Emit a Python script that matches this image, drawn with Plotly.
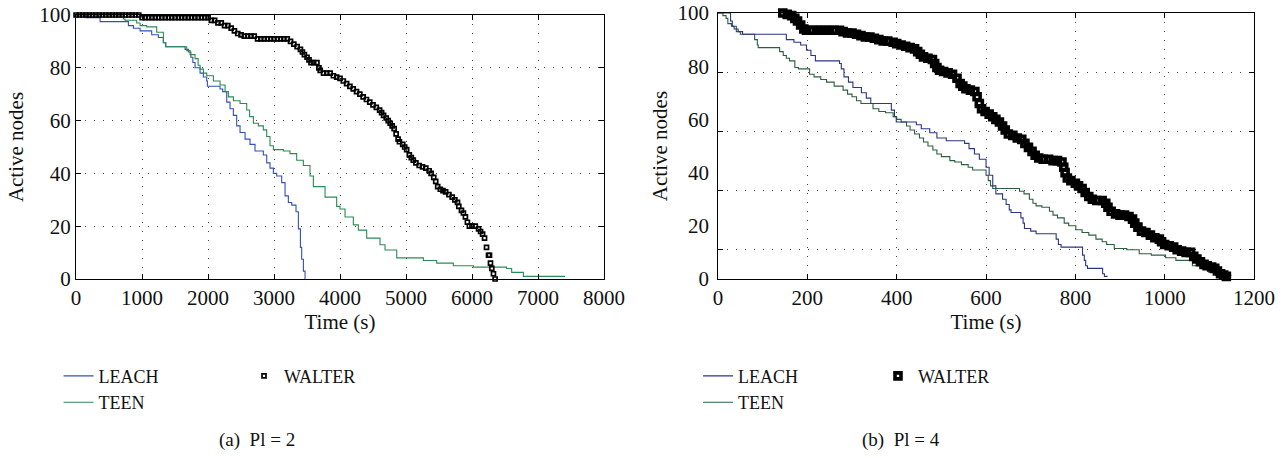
import plotly.graph_objects as go

# ---------------- (a) Pl = 2 ----------------
leach_a_t = [0, 150, 364, 793, 869, 970, 1146, 1247, 1323, 1359, 1652, 1702, 1740, 1770, 1803,
             1879, 1929, 1980, 1990, 2182, 2222, 2283, 2333, 2384, 2434, 2485, 2561, 2636, 2712,
             2838, 2889, 2939, 2990, 3040, 3116, 3167, 3217, 3268, 3333, 3369, 3400, 3419, 3445, 3470]
leach_a_n = [100, 99, 97.5, 96, 95, 94, 92.5, 91.5, 89.5, 88, 87, 86, 84, 82, 80,
             78, 76.5, 75, 73, 72, 71, 67, 64.5, 62, 58, 55.5, 53, 51, 48.5,
             47, 44, 42, 40, 39, 36.5, 31.5, 29, 28, 25.5, 19, 12, 7.5, 3, 0]

teen_a_t = [0, 717, 742, 919, 970, 1071, 1222, 1323, 1359, 1677, 1727, 1803, 1850, 1879, 1930,
            1980, 2081, 2182, 2258, 2308, 2384, 2485, 2586, 2630, 2687, 2763, 2838, 2889, 2939,
            2990, 3141, 3242, 3343, 3444, 3545, 3596, 3773, 3949, 4000, 4076, 4202, 4278, 4404,
            4606, 4682, 4859, 5263, 5465, 5717, 6020, 6525, 6601, 6778, 7409]
teen_a_n = [100, 98.5, 98, 97, 96, 95.5, 93.5, 89.5, 88, 86.5, 85, 83.5, 81, 79.5, 78,
            77, 75, 73.5, 71, 69, 67.5, 66.5, 64, 61.5, 59, 58, 56.5, 54, 50.5,
            49, 48.5, 47.5, 45, 43, 39, 35, 31, 27.5, 26.5, 23.5, 20.5, 18.5, 15.5,
            13, 11, 8, 7, 6, 5, 4.5, 4, 2.5, 1, 1]

walter_a_t = [0, 50, 100, 150, 200, 250, 300, 350, 400, 450, 500, 550, 600, 650, 700, 750, 800,
              850, 900, 950,
              1000, 1050, 1100, 1150, 1200, 1250, 1300, 1350, 1400, 1450, 1500, 1550, 1600, 1650,
              1700, 1750, 1800, 1850, 1900, 1950, 2000,
              2050, 2100, 2150, 2200, 2250, 2300, 2350, 2400, 2450, 2500, 2550, 2600, 2650, 2700,
              2750, 2800, 2850, 2900, 2950, 3000, 3050, 3100, 3150, 3200, 3250, 3300, 3350, 3400,
              3430, 3460, 3500, 3530, 3560, 3600, 3650, 3680, 3700, 3750, 3800, 3850, 3900, 3950,
              4000, 4050, 4100, 4150, 4200, 4250, 4300, 4350, 4400, 4450, 4500, 4550, 4600, 4630,
              4660, 4700, 4730, 4760, 4790, 4820, 4850, 4880, 4900, 4950, 4980, 5010, 5050, 5080,
              5110, 5150, 5200, 5250, 5300, 5350, 5380, 5420, 5450, 5480, 5520, 5560, 5600, 5650,
              5700, 5740, 5780, 5800, 5840, 5870, 5900, 5930, 5960, 6000, 6050, 6100, 6130, 6160,
              6190, 6220, 6250, 6265, 6280, 6300, 6325, 6350]
walter_a_n = [100, 100, 100, 100, 100, 100, 100, 100, 100, 100, 100, 100, 100, 100, 100, 100, 100,
              100, 100, 100,
              99, 99, 99, 99, 99, 99, 99, 99, 99, 99, 99, 99, 99, 99,
              99, 99, 99, 99, 99, 99, 99,
              98, 98, 97, 97, 96, 96, 95, 94, 93, 92.5, 92, 92, 92, 92,
              91, 91, 91, 91, 91, 91, 91, 91, 91, 91, 90, 89, 88, 87,
              86, 85, 84, 83, 82, 82, 82, 80, 79, 78, 78, 78, 77, 76.5,
              76, 75, 74, 73, 72, 71, 70, 69, 68, 67, 66, 65, 64, 63,
              62, 61, 60, 59, 58, 57, 55, 53, 52, 51, 50, 49, 47, 46,
              45, 44, 43, 42.5, 42, 41, 40, 38.5, 37, 35, 34, 33.5, 33, 32,
              31, 30, 29, 27.5, 26, 25, 23.5, 21.5, 20, 20, 20, 19, 18, 17,
              15.5, 12, 9, 9, 6, 4, 2, 0]

# ---------------- (b) Pl = 4 ----------------
leach_b_t = [0, 28, 32, 36, 45, 55, 153, 170, 185, 198, 208, 218, 272, 276, 282, 292, 302, 321,
             332, 342, 388, 395, 399, 444, 455, 474, 490, 511, 552, 562, 574, 585, 600, 607, 615,
             622, 637, 645, 652, 656, 678, 683, 686, 700, 712, 757, 762, 768, 816, 820, 823, 827,
             861, 865, 872]
leach_b_n = [100, 97, 95, 94, 93, 92, 90, 89, 88, 86, 84, 82, 81, 79, 76, 74, 72, 70,
             68, 66, 63.5, 61, 59, 58, 56.5, 55, 53, 52, 51, 49, 47, 45, 42, 39, 35,
             32, 30, 28, 26, 25, 23, 21, 19, 18, 17, 15, 13, 12, 9, 7, 5, 4,
             2, 1, 1]

teen_b_t = [0, 11, 18, 22, 30, 41, 50, 82, 88, 90, 138, 146, 153, 160, 172, 180, 205, 215, 230,
            243, 260, 280, 290, 300, 310, 320, 347, 360, 375, 392, 400, 410, 422, 430, 440, 451,
            460, 470, 481, 490, 500, 519, 530, 545, 560, 570, 600, 605, 610, 615, 675, 685, 697,
            705, 712, 725, 742, 750, 760, 775, 785, 801, 815, 830, 846, 860, 870, 887, 915, 943,
            970, 1002, 1025, 1062, 1080, 1099, 1114, 1148]
teen_b_n = [100, 99, 98, 96, 95, 93, 92, 90, 88, 87, 85.5, 84, 83, 82, 79.5, 79, 77, 76, 75,
            74, 72.5, 71, 69.5, 68.5, 67, 66, 64, 63, 62.5, 61, 60, 59, 57.5, 56, 54.5, 53,
            51.5, 50, 48.5, 47, 46, 44.5, 44, 43, 42, 41, 39, 37, 35, 34, 33, 32, 30,
            28.5, 27.5, 27, 25.5, 24, 23, 21, 20, 18.5, 17.5, 16.5, 15, 14, 13, 11.5, 11, 9.5,
            9, 8, 7, 5, 4, 2.5, 1.5, 1]

walter_b_t = [145, 155, 165, 172, 178, 185, 192, 198, 210, 220, 230, 240, 250, 260, 272, 280,
              290, 300, 310, 320, 330, 340, 350, 360, 370, 380, 392, 400, 410, 420, 430, 440,
              447, 453, 460, 470, 480, 485, 490, 496, 505, 515, 525, 535, 542, 548, 555, 565,
              575, 580, 585, 590, 598, 607, 615, 622, 630, 637, 643, 650, 660, 670, 680, 687,
              695, 703, 710, 718, 728, 740, 750, 760, 770, 774, 777, 782, 790, 800, 807, 815,
              822, 830, 838, 848, 860, 868, 873, 880, 890, 900, 910, 920, 928, 933, 940, 948,
              958, 968, 978, 988, 993, 1000, 1010, 1020, 1028, 1038, 1048, 1058, 1065, 1072,
              1080, 1088, 1095, 1105, 1112, 1118, 1125, 1132, 1138]
walter_b_n = [100, 99.5, 99, 98, 97, 95.5, 94, 93.5, 93.5, 93.5, 93.5, 93.5, 93.5, 93.5, 93.5, 93,
              92.5, 92.5, 92, 91.5, 91, 91, 90.5, 90, 89.5, 89.5, 89, 88.5, 88, 87.5, 87, 86.5,
              85.5, 84.5, 83.5, 83, 82.5, 81, 79.5, 78.5, 78, 77.5, 77, 75.5, 73.5, 72.5, 71.5, 71,
              70.5, 68.5, 66, 64, 63, 62, 61, 60, 59, 57.5, 56, 54.5, 54, 53, 52.5, 51,
              49.5, 48, 46.5, 45.5, 45, 45, 44.5, 44.5, 44, 42, 40, 38, 37, 36, 35, 34,
              32.5, 31, 30, 29.5, 29.5, 28.5, 27, 25.5, 24.5, 24, 24, 23.5, 22.5, 21, 19.5, 18,
              17.5, 16.5, 15.5, 15, 14, 13, 12.5, 12, 11, 10.5, 10, 10, 8.5, 7.5,
              6.5, 5.5, 5, 4.5, 4, 3, 2, 1.5, 1]

x_ticks_a = [0, 1000, 2000, 3000, 4000, 5000, 6000, 7000, 8000]
x_ticks_b = [0, 200, 400, 600, 800, 1000, 1200]
y_ticks = [0, 20, 40, 60, 80, 100]
y_grid_b = [100 * (1 - 2 * k / 9) for k in range(1, 5)]

FONT = "Liberation Serif"
BLUE_A, GREEN_A = "#3150b8", "#2b8a55"
BLUE_B, GREEN_B = "#2b3684", "#2c5f40"

fig = go.Figure()

fig.add_trace(go.Scatter(x=leach_a_t, y=leach_a_n, mode="lines", line_shape="hv",
                         line=dict(color=BLUE_A, width=1.1), name="LEACH",
                         xaxis="x", yaxis="y", legend="legend", legendgroup="a1"))
fig.add_trace(go.Scatter(x=teen_a_t, y=teen_a_n, mode="lines", line_shape="hv",
                         line=dict(color=GREEN_A, width=1.1), name="TEEN",
                         xaxis="x", yaxis="y", legend="legend", legendgroup="a2"))
fig.add_trace(go.Scatter(x=walter_a_t, y=walter_a_n, mode="markers", cliponaxis=False,
                         marker=dict(symbol="square-open", size=4, color="black",
                                     line=dict(width=1.7, color="black")),
                         name="WALTER", xaxis="x", yaxis="y", legend="legend2"))

# right panel: LEACH sits on the labelled overlay axis (same range/domain as y2)
fig.add_trace(go.Scatter(x=leach_b_t, y=leach_b_n, mode="lines", line_shape="hv",
                         line=dict(color=BLUE_B, width=1.1), name="LEACH",
                         xaxis="x2", yaxis="y3", legend="legend3", legendgroup="b1"))
fig.add_trace(go.Scatter(x=teen_b_t, y=teen_b_n, mode="lines", line_shape="hv",
                         line=dict(color=GREEN_B, width=1.1), name="TEEN",
                         xaxis="x2", yaxis="y2", legend="legend3", legendgroup="b2"))
fig.add_trace(go.Scatter(x=walter_b_t, y=walter_b_n, mode="markers", cliponaxis=False,
                         marker=dict(symbol="square-open", size=6, color="black",
                                     line=dict(width=3.6, color="black")),
                         name="WALTER", xaxis="x2", yaxis="y2", legend="legend4"))

tickfont = dict(family=FONT, size=21, color="#111")
titlefont = dict(family=FONT, size=21, color="#111")
axis_common = dict(showline=True, linecolor="black", linewidth=1, mirror="ticks",
                   ticks="inside", ticklen=5, tickcolor="black", zeroline=False,
                   automargin=False, tickfont=tickfont,
                   gridcolor="#444", griddash="1px,8px", gridwidth=1)

legend_font = dict(family=FONT, size=18, color="#111")

fig.update_layout(
    width=1287, height=458,
    margin=dict(l=0, r=0, t=0, b=0, autoexpand=False),
    paper_bgcolor="white", plot_bgcolor="white",
    font=dict(family=FONT, color="#111"),
    xaxis=dict(domain=[0.0591, 0.4693], range=[0, 8000], tickvals=x_ticks_a, anchor="y",
               showgrid=True, title=dict(text="Time (s)", font=titlefont, standoff=1),
               **axis_common),
    yaxis=dict(domain=[0.3908, 0.9672], range=[0, 100], tickvals=y_ticks, anchor="x",
               showgrid=True, title=dict(text="Active nodes", font=titlefont, standoff=10),
               **axis_common),
    xaxis2=dict(domain=[0.5579, 0.9744], range=[0, 1200], tickvals=x_ticks_b, anchor="y2",
                showgrid=True, title=dict(text="Time (s)", font=titlefont, standoff=1),
                **axis_common),
    yaxis2=dict(domain=[0.3908, 0.9716], range=[0, 100], tickvals=y_grid_b, anchor="x2",
                showgrid=True, showticklabels=False, **axis_common),
    yaxis3=dict(domain=[0.3908, 0.9716], range=[0, 100], tickvals=y_ticks, anchor="x2",
                overlaying="y2", side="left", showgrid=False, showline=False, ticks="",
                zeroline=False, automargin=False, tickfont=tickfont, ticklabelstandoff=8,
                title=dict(text="Active nodes", font=titlefont, standoff=4)),
    legend=dict(x=0.0455, y=0.219, xanchor="left", yanchor="top", orientation="v",
                font=legend_font, bgcolor="rgba(0,0,0,0)", tracegroupgap=0),
    legend2=dict(x=0.1896, y=0.219, xanchor="left", yanchor="top",
                 font=legend_font, bgcolor="rgba(0,0,0,0)"),
    legend3=dict(x=0.5424, y=0.219, xanchor="left", yanchor="top", orientation="v",
                 font=legend_font, bgcolor="rgba(0,0,0,0)", tracegroupgap=0),
    legend4=dict(x=0.6822, y=0.219, xanchor="left", yanchor="top",
                 font=legend_font, bgcolor="rgba(0,0,0,0)"),
    annotations=[
        dict(text="(a)  Pl = 2", x=0.1997, y=0.0393, xref="paper", yref="paper",
             xanchor="center", yanchor="middle", showarrow=False,
             font=dict(family=FONT, size=19, color="#111")),
        dict(text="(b)  Pl = 4", x=0.7001, y=0.0393, xref="paper", yref="paper",
             xanchor="center", yanchor="middle", showarrow=False,
             font=dict(family=FONT, size=19, color="#111")),
    ],
)

fig.write_html("out.html")
